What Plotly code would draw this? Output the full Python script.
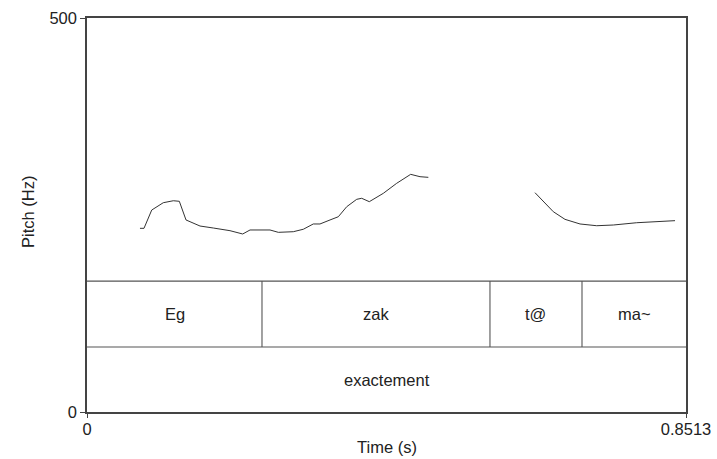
import plotly.graph_objects as go

# Pitch contour (two voiced stretches)
t1 = [0.0753, 0.0810, 0.0920, 0.1084, 0.1227, 0.1312, 0.1407, 0.1606, 0.1795, 0.2032,
      0.2213, 0.2317, 0.2601, 0.2719, 0.2932, 0.3074, 0.3216, 0.3311, 0.3454, 0.3572,
      0.3691, 0.3833, 0.3904, 0.4012, 0.4211, 0.4401, 0.4600, 0.4733, 0.4851]
f1 = [233.1, 233.1, 256.3, 265.6, 268.1, 267.4, 243.7, 236.0, 233.5, 230.1,
      225.9, 231.0, 231.0, 228.0, 228.8, 231.9, 238.6, 238.6, 243.7, 247.8,
      260.5, 269.9, 271.2, 266.9, 277.5, 290.2, 301.6, 298.6, 297.8]
t2 = [0.6367, 0.6485, 0.6627, 0.6793, 0.7007, 0.7244, 0.7480, 0.7812, 0.8143, 0.8357]
f2 = [278.3, 266.9, 254.2, 244.5, 238.6, 236.4, 237.3, 240.2, 241.5, 242.8]

t_max = 0.8513
y_max = 500

# TextGrid tiers
tier1_bounds = [0.0, 0.2487, 0.5727, 0.7035, 0.8513]
tier1_labels = ["Eg", "zak", "t@", "ma~"]
tier2_bounds = [0.0, 0.8513]
tier2_labels = ["exactement"]
tier1_top, tier1_bottom = 166.2, 82.5
tier2_bottom = 0.0

fig = go.Figure()
for tt, ff in [(t1, f1), (t2, f2)]:
    fig.add_trace(go.Scatter(x=tt, y=ff, mode="lines",
                             line=dict(color="#333333", width=1.0),
                             showlegend=False, hoverinfo="skip"))

shapes = []
line_col = "#555555"
for yv in [tier1_top, tier1_bottom]:
    shapes.append(dict(type="line", xref="x", yref="y", x0=0, x1=t_max, y0=yv, y1=yv,
                       line=dict(color=line_col, width=1.2)))
for b in tier1_bounds[1:-1]:
    shapes.append(dict(type="line", xref="x", yref="y", x0=b, x1=b,
                       y0=tier1_bottom, y1=tier1_top,
                       line=dict(color=line_col, width=1.1)))

txt_font = dict(family="Liberation Sans, Arial", size=16.5, color="#222")
annotations = []
for i, lab in enumerate(tier1_labels):
    annotations.append(dict(x=(tier1_bounds[i] + tier1_bounds[i + 1]) / 2,
                            y=(tier1_top + tier1_bottom) / 2, xref="x", yref="y",
                            text=lab, showarrow=False, font=txt_font))
for i, lab in enumerate(tier2_labels):
    annotations.append(dict(x=(tier2_bounds[i] + tier2_bounds[i + 1]) / 2,
                            y=(tier1_bottom + tier2_bottom) / 2, xref="x", yref="y",
                            text=lab, showarrow=False, font=txt_font))
# axis titles
annotations.append(dict(x=0.5, y=0, xref="paper", yref="paper", yshift=-35,
                        text="Time (s)", showarrow=False, font=txt_font,
                        xanchor="center", yanchor="middle"))
annotations.append(dict(x=0, y=0.5, xref="paper", yref="paper", xshift=-59, yshift=3,
                        text="Pitch (Hz)", showarrow=False, font=txt_font,
                        textangle=-90, xanchor="center", yanchor="middle"))

fig.update_layout(
    width=717, height=459,
    margin=dict(l=87, r=31, t=18, b=47),
    paper_bgcolor="white", plot_bgcolor="white",
    shapes=shapes, annotations=annotations,
    font=txt_font,
    xaxis=dict(range=[0, t_max], tickvals=[0, t_max], ticktext=["0", "0.8513"],
               showgrid=False, zeroline=False, showline=True, mirror=True,
               linecolor="#444", linewidth=1.5, ticks="outside", ticklen=4,
               tickcolor="#444", tickfont=txt_font, automargin=False,
               ticklabelstandoff=-3),
    yaxis=dict(range=[0, y_max], tickvals=[0, y_max], ticktext=["0", "500"],
               showgrid=False, zeroline=False, showline=True, mirror=True,
               linecolor="#444", linewidth=1.5, ticks="outside", ticklen=5,
               tickcolor="#444", tickfont=txt_font, automargin=False),
)

fig.write_html("out.html")
